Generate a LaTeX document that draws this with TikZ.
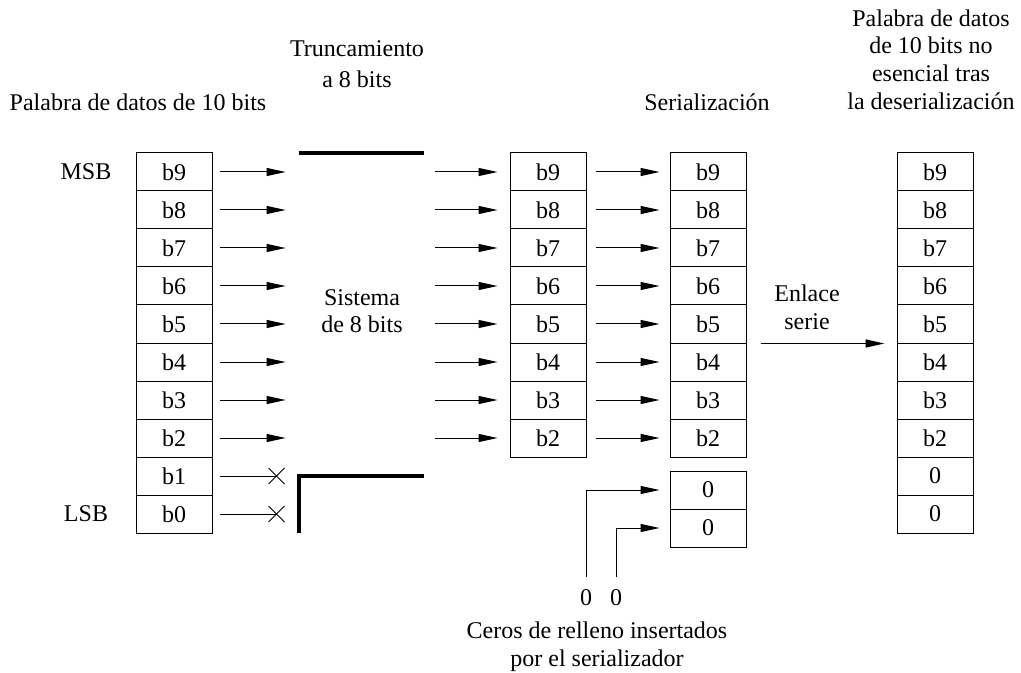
\documentclass[tikz,border=0pt]{standalone}
\usepackage{fontspec}
\setmainfont{Liberation Serif}
\usetikzlibrary{arrows.meta,positioning,shapes.misc}

\begin{document}
\begin{tikzpicture}[x=0.5pt,y=-0.5pt,
    font=\fontsize{12}{13.8}\selectfont,
    cell/.style={draw, line width=0.5pt, minimum width=38pt, minimum height=19pt, inner sep=0pt},
    bitarrow/.style={-{Triangle[length=9.5pt,width=4pt]}, line width=0.5pt},
    cut/.style={cross out, draw, line width=0.5pt, minimum size=7.5pt, inner sep=0pt},
    wall/.style={line width=2pt},
    caption/.style={align=center}]
    \useasboundingbox (0,0) rectangle (1021,673);

    % Palabra de entrada
    \foreach \i in {0,...,9}
        \node[cell] (a\i) at (174,{172+38*(9-\i)}) {b\i};
    \node (msb) at (86,172) {MSB};
    \node (lsb) at (86,514) {LSB};
    \node[caption] (ttl1) at (138,102) {Palabra de datos de 10 bits};

    % Sistema de 8 bits
    \node[minimum width=62.5pt, minimum height=190pt, inner sep=0pt] (sys) at (361.5,343) {};
    \draw[wall] (sys.north west) -- (sys.north east);
    \draw[wall] (sys.south west) |- (a1 -| sys.east);
    \node[caption] (syslbl) at (362,311) {Sistema\\de 8 bits};
    \node[caption] (ttl2) at (357,64) {Truncamiento\\[2pt]a 8 bits};

    % Salida del sistema
    \foreach \i in {2,...,9}
        \node[cell] (b\i) at (548,{172+38*(9-\i)}) {b\i};

    % Serializador
    \foreach \i in {2,...,9}
        \node[cell] (c\i) at (708,{172+38*(9-\i)}) {b\i};
    \node[cell] (z1) at (708,490) {0};
    \node[cell] (z0) at (708,528) {0};
    \node[caption] (ttl3) at (707,102) {Serialización};

    % Palabra tras la deserializacion
    \foreach \i in {2,...,9}
        \node[cell] (d\i) at (935,{172+38*(9-\i)}) {b\i};
    \node[cell] (d1) at (935,476) {0};
    \node[cell] (d0) at (935,514) {0};
    \node[caption] (ttl4) at (931,59.5) {Palabra de datos\\de 10 bits no\\esencial tras\\la deserialización};

    % Flechas de bits
    \foreach \i in {2,...,9} {
        \draw[bitarrow, shorten <=3.5pt, shorten >=6.5pt] (a\i.east) -- (a\i -| sys.west);
        \draw[bitarrow, shorten <=5.5pt, shorten >=6pt] (a\i -| sys.east) -- (b\i.west);
        \draw[bitarrow, shorten <=4.5pt, shorten >=5pt] (b\i.east) -- (c\i.west);
    }

    % Bits descartados
    \foreach \i in {0,1} {
        \node[cut] (x\i) at (276.5,{172+38*(9-\i)}) {};
        \draw[line width=0.5pt, shorten <=3.5pt] (a\i.east) -- (x\i.center);
    }

    % Enlace serie
    \draw[bitarrow, line width=0.8pt, shorten <=7pt, shorten >=6pt] (c5.south east) -- (d5.south west);
    \node[caption] (link) at (807,307) {Enlace\\serie};

    % Ceros de relleno
    \node[inner sep=0pt] (zero1) at (586,598) {0};
    \node[inner sep=0pt] (zero0) at (616,598) {0};
    \draw[bitarrow, shorten <=6.5pt, shorten >=5pt] (zero1.north) |- (z1.west);
    \draw[bitarrow, shorten <=6.5pt, shorten >=5pt] (zero0.north) |- (z0.west);
    \node[caption] (fill) at (597,647) {Ceros de relleno insertados\\por el serializador};
\end{tikzpicture}
\end{document}
